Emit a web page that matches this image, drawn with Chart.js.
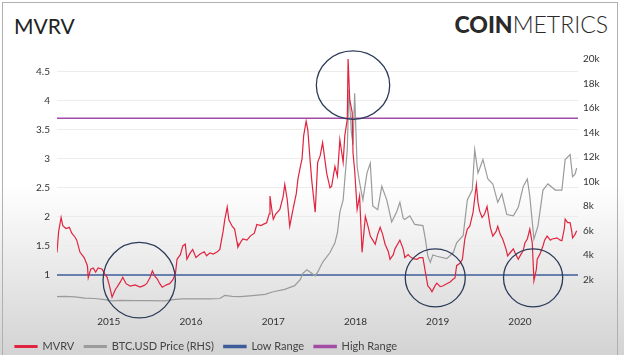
<!DOCTYPE html>
<html><head><meta charset="utf-8">
<script src="https://cdn.jsdelivr.net/npm/chart.js@4.4.1/dist/chart.umd.min.js"></script>
<style>
html,body{margin:0;padding:0;}
body{width:624px;height:355px;overflow:hidden;position:relative;background:linear-gradient(to bottom,#ffffff 0%,#ffffff 52%,#d3d3d3 100%);font-family:Lato,sans-serif;}
#frame{position:absolute;left:2px;top:2px;width:616px;height:360px;border:1px solid #b0b0b0;box-sizing:border-box;}
#title{position:absolute;left:14px;top:15px;font-size:21px;color:#222;line-height:1;}
#logo{position:absolute;right:16px;top:13px;font-size:23px;color:#2a2a2a;line-height:1;}
#logo b{font-weight:900}
#logo span{font-weight:300}
#wrap{position:absolute;left:0;top:0;width:624px;height:355px}
</style></head>
<body>
<div id="frame"></div>
<div id="title">MVRV</div>
<div id="logo"><b>COIN</b><span>METRICS</span></div>
<div id="wrap"><canvas id="c" width="624" height="355"></canvas></div>
<script>
// ---- data (decimal years) ----
const mvrvDates = [2014.37,2014.39,2014.42,2014.44,2014.48,2014.52,2014.55,2014.59,2014.61,2014.65,2014.70,2014.74,2014.75,2014.78,2014.81,2014.84,2014.87,2014.92,2014.95,2014.98,
2015.01,2015.04,2015.08,2015.10,2015.14,2015.17,2015.21,2015.26,2015.32,2015.38,2015.43,2015.46,2015.50,2015.53,2015.56,2015.59,2015.62,2015.65,2015.70,2015.74,2015.78,2015.81,2015.83,2015.87,2015.90,2015.93,2015.95,2015.99,
2016.02,2016.06,2016.11,2016.16,2016.19,2016.23,2016.27,2016.32,2016.35,2016.39,2016.41,2016.44,2016.46,2016.50,2016.53,2016.56,2016.57,2016.61,2016.63,2016.68,2016.72,2016.77,2016.80,2016.85,2016.89,2016.92,2016.95,2016.96,2016.98,
2017.00,2017.03,2017.08,2017.12,2017.14,2017.17,2017.20,2017.24,2017.28,2017.30,2017.33,2017.35,2017.37,2017.40,2017.42,2017.45,2017.47,2017.51,2017.54,2017.57,2017.60,2017.65,2017.69,2017.71,2017.75,2017.78,2017.81,2017.85,2017.87,2017.90,2017.91,2017.93,2017.96,2017.97,2017.99,
2018.02,2018.05,2018.08,2018.12,2018.15,2018.18,2018.21,2018.24,2018.27,2018.30,2018.33,2018.36,2018.40,2018.42,2018.46,2018.48,2018.52,2018.54,2018.58,2018.60,2018.64,2018.66,2018.70,2018.75,2018.78,2018.82,2018.85,2018.88,2018.91,2018.93,2018.97,2018.99,
2019.03,2019.06,2019.11,2019.15,2019.19,2019.21,2019.23,2019.27,2019.30,2019.33,2019.36,2019.39,2019.43,2019.47,2019.49,2019.51,2019.54,2019.57,2019.60,2019.64,2019.67,2019.71,2019.73,2019.76,2019.79,2019.83,2019.85,2019.89,2019.92,2019.95,2019.98,
2020.01,2020.04,2020.06,2020.09,2020.12,2020.15,2020.17,2020.20,2020.21,2020.24,2020.28,2020.30,2020.33,2020.37,2020.39,2020.43,2020.45,2020.49,2020.51,2020.54,2020.55,2020.58,2020.61,2020.63,2020.64,2020.67,2020.69];
const mvrvValues = [1.39,1.75,1.99,1.85,1.80,1.82,1.72,1.65,1.60,1.39,1.30,1.16,0.95,1.10,1.12,1.05,1.12,1.10,1.02,0.96,
0.80,0.62,0.75,0.79,0.88,0.96,0.85,0.81,0.83,0.79,0.82,0.85,0.95,1.07,0.98,0.93,0.85,0.79,0.83,0.85,0.92,1.02,1.27,1.35,1.50,1.53,1.27,1.38,
1.44,1.30,1.36,1.40,1.33,1.38,1.36,1.40,1.44,1.75,1.95,2.17,1.95,1.84,1.79,1.56,1.48,1.58,1.62,1.60,1.67,1.72,1.87,1.85,1.88,1.90,2.05,2.36,2.15,
1.96,2.05,2.13,2.35,2.56,2.30,1.84,2.13,2.40,2.65,2.87,3.00,3.40,3.65,3.50,2.94,2.60,2.08,2.94,3.05,3.28,2.75,2.50,2.53,2.87,2.70,3.33,2.94,3.40,3.68,4.72,4.02,3.80,3.10,2.80,
2.13,2.36,1.39,2.01,1.85,1.67,1.60,1.53,1.70,1.82,1.70,1.53,1.40,1.27,1.35,1.45,1.55,1.60,1.45,1.30,1.35,1.32,1.28,1.27,1.30,1.30,1.05,0.81,0.76,0.71,0.82,0.86,
0.80,0.81,0.85,0.88,0.93,0.95,1.16,1.20,1.27,1.62,1.79,1.84,2.08,2.56,2.25,2.10,1.99,2.05,2.18,1.82,1.67,1.75,1.84,1.70,1.62,1.45,1.33,1.40,1.45,1.35,1.27,
1.35,1.42,1.55,1.62,1.79,1.55,0.90,1.10,1.27,1.35,1.50,1.60,1.67,1.60,1.62,1.63,1.64,1.60,1.59,1.80,1.96,1.90,1.90,1.75,1.64,1.70,1.76];

const priceDates = [2014.37,2014.47,2014.59,2014.71,2014.83,2014.95,2015.04,2015.14,2015.32,2015.50,2015.68,2015.81,2015.90,2016.05,2016.23,2016.35,2016.41,2016.50,2016.60,2016.78,2016.90,
2017.00,2017.14,2017.26,2017.33,2017.36,2017.41,2017.45,2017.51,2017.54,2017.60,2017.69,2017.75,2017.78,2017.81,2017.85,2017.90,2017.92,2017.95,2017.97,2017.99,
2018.02,2018.05,2018.09,2018.14,2018.18,2018.21,2018.27,2018.32,2018.38,2018.44,2018.50,2018.54,2018.58,2018.60,2018.66,2018.72,2018.82,2018.85,2018.88,2018.91,2018.94,2018.99,
2019.11,2019.19,2019.23,2019.31,2019.36,2019.42,2019.45,2019.49,2019.55,2019.61,2019.67,2019.73,2019.78,2019.84,2019.92,2019.98,
2020.04,2020.09,2020.12,2020.17,2020.22,2020.28,2020.34,2020.43,2020.51,2020.55,2020.61,2020.64,2020.67,2020.69];
const priceValues = [600,620,580,480,450,350,250,300,280,280,250,380,420,420,420,450,700,620,600,700,780,
1000,1200,1500,2000,2500,2800,2600,2300,2600,3400,4200,5000,5800,7500,8500,12600,17500,14000,13000,17200,
11200,9900,8500,10700,11500,8000,7700,9600,8500,6700,7500,8300,7000,6900,7200,6500,6400,5300,3900,3400,4000,3900,
3700,4200,5000,5600,8500,9300,12600,10700,11800,10200,9800,8300,9000,7300,7200,7900,
9600,10200,8800,5300,6400,9300,9800,9300,9300,11800,12200,10400,10600,11100];

const lowRange = 1;
const highRange = 3.7;
const xStart = 2014.37, xEnd = 2020.706;
const xTickYears = [2015,2016,2017,2018,2019,2020];
const mvrvTicks = [1,1.5,2,2.5,3,3.5,4,4.5];
const priceTicks = [2000,4000,6000,8000,10000,12000,14000,16000,18000,20000];

// highlighted circles: centre (year, MVRV) and radii (years, MVRV units)
const circleYears = [2015.37, 2017.97, 2018.97, 2020.16];
const circleMvrv = [0.91, 4.27, 0.95, 0.95];
const circleRadiusYears = [0.44, 0.446, 0.365, 0.36];
const circleRadiusMvrv = [0.65, 0.59, 0.50, 0.50];

const pts = (xs, ys) => xs.map((x, i) => ({x, y: ys[i]}));

const circlePlugin = {
  id: 'circles',
  afterDatasetsDraw(chart) {
    const {ctx, scales: {x, y}} = chart;
    ctx.save();
    ctx.strokeStyle = '#2b3b58';
    ctx.lineWidth = 1.3;
    circleYears.forEach((t, i) => {
      const cx = x.getPixelForValue(t), cy = y.getPixelForValue(circleMvrv[i]);
      const rx = x.getPixelForValue(t + circleRadiusYears[i]) - cx;
      const ry = cy - y.getPixelForValue(circleMvrv[i] + circleRadiusMvrv[i]);
      ctx.beginPath();
      ctx.ellipse(cx, cy, rx, ry, 0, 0, Math.PI * 2);
      ctx.stroke();
    });
    ctx.restore();
  }
};

Chart.defaults.font.family = 'Lato, sans-serif';
Chart.defaults.color = '#333';

new Chart(document.getElementById('c'), {
  type: 'line',
  data: {
    datasets: [
      {label: 'MVRV', data: pts(mvrvDates, mvrvValues), yAxisID: 'y', borderColor: '#e0243f', backgroundColor: '#e0243f', borderWidth: 1.2, pointRadius: 0, tension: 0},
      {label: 'BTC.USD Price (RHS)', data: pts(priceDates, priceValues), yAxisID: 'y1', borderColor: '#9b9b9b', backgroundColor: '#9b9b9b', borderWidth: 1.2, pointRadius: 0, tension: 0},
      {label: 'Low Range', data: pts([xStart, xEnd], [lowRange, lowRange]), yAxisID: 'y', borderColor: '#3e5c9a', backgroundColor: '#3e5c9a', borderWidth: 1.5, pointRadius: 0},
      {label: 'High Range', data: pts([xStart, xEnd], [highRange, highRange]), yAxisID: 'y', borderColor: '#a24ca6', backgroundColor: '#a24ca6', borderWidth: 1.5, pointRadius: 0}
    ]
  },
  options: {
    responsive: false,
    animation: false,
    devicePixelRatio: 1,
    layout: {padding: {left: 5, right: 0, top: 59, bottom: -7}},
    plugins: {
      legend: {
        position: 'bottom', align: 'start',
        labels: {boxWidth: 22, boxHeight: 2, padding: 10, color: '#444', font: {size: 11}}
      },
      tooltip: {enabled: false}
    },
    scales: {
      x: {
        type: 'linear', min: xStart, max: xEnd,
        grid: {display: false}, border: {display: false},
        ticks: {font: {size: 10}, color: '#333', padding: 4, maxRotation: 0, autoSkip: false, callback: v => String(v)},
        afterBuildTicks: s => { s.ticks = xTickYears.map(v => ({value: v})); },
        afterFit: s => { s.height = 27; }
      },
      y: {
        position: 'left', min: 0.5, max: 4.72,
        grid: {color: '#ececec', drawTicks: false}, border: {display: false},
        ticks: {font: {size: 10}, color: '#333', padding: 7, callback: v => String(v)},
        afterBuildTicks: s => { s.ticks = mvrvTicks.map(v => ({value: v})); },
        afterFit: s => { s.width = 52; }
      },
      y1: {
        position: 'right', min: 0, max: 20000,
        grid: {display: false, drawTicks: false}, border: {display: false},
        ticks: {font: {size: 10}, color: '#333', padding: 5, callback: v => (v / 1000) + 'k'},
        afterBuildTicks: s => { s.ticks = priceTicks.map(v => ({value: v})); },
        afterFit: s => { s.width = 46; }
      }
    }
  },
  plugins: [circlePlugin]
});
</script>
</body></html>
